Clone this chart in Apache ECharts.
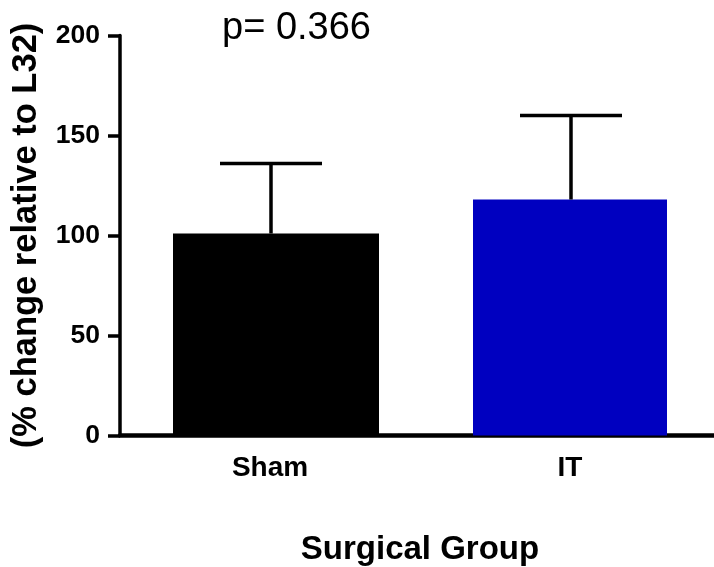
<!DOCTYPE html>
<html>
<head>
<meta charset="utf-8">
<script src="https://cdn.jsdelivr.net/npm/echarts@6/dist/echarts.min.js"></script>
<style>html,body{margin:0;padding:0;background:#fff}#c{width:714px;height:567px}</style>
</head>
<body>
<div id="c"></div>
<script>
var categories = ['Sham', 'IT'];
var meanValues = [101, 118];
var errorTops = [136, 160];
var yTicks = [0, 50, 100, 150, 200];
var barColors = ['#000000', '#0000c0'];
var pLabel = 'p= 0.366';

var FONT = '"Liberation Sans", Arial, sans-serif';
var chart = echarts.init(document.getElementById('c'));

function seriesFor(i, width) {
  var d = categories.map(function (c, j) { return j === i ? meanValues[j] : '-'; });
  return {
    type: 'bar', data: d, barWidth: width, barGap: '-100%',
    itemStyle: { color: barColors[i] }, silent: true, z: 2
  };
}

chart.setOption({
  animation: false,
  title: {
    text: pLabel, left: 217, top: 5,
    textStyle: { fontFamily: FONT, fontSize: 38, fontWeight: 'normal', color: '#000' }
  },
  grid: { left: 120, top: 35.5, width: 600, height: 400, containLabel: false, outerBoundsMode: 'none' },
  xAxis: {
    type: 'category', data: categories,
    name: 'Surgical Group', nameLocation: 'middle', nameGap: 98,
    nameTextStyle: { fontFamily: FONT, fontSize: 33, fontWeight: 'bold', color: '#000' },
    axisLine: { lineStyle: { color: '#000', width: 4.5 } },
    axisTick: { alignWithLabel: true, length: 11, lineStyle: { width: 3.5, color: '#000' } },
    axisLabel: { fontFamily: FONT, fontSize: 28, fontWeight: 'bold', color: '#000', margin: 19 }
  },
  yAxis: {
    type: 'value', min: 0, max: 200, interval: 50,
    name: '(% change relative to L32)', nameLocation: 'middle', nameGap: 76,
    nameTextStyle: { fontFamily: FONT, fontSize: 34.5, fontWeight: 'bold', color: '#000' },
    axisLine: { show: true, lineStyle: { color: '#000', width: 3.5 } },
    axisTick: { show: true, length: 12, lineStyle: { width: 3.5, color: '#000' } },
    axisLabel: {
      fontFamily: FONT, fontSize: 26.5, fontWeight: 'bold', color: '#000', margin: 20,
      formatter: function (v) { return yTicks.indexOf(v) >= 0 ? String(v) : ''; }
    },
    splitLine: { show: false }
  },
  series: [
    seriesFor(0, 206),
    seriesFor(1, 194),
    {
      type: 'custom', silent: true, z: 3,
      data: categories.map(function (c, i) { return [i, meanValues[i], errorTops[i]]; }),
      renderItem: function (params, api) {
        var base = api.coord([api.value(0), api.value(1)]);
        var top = api.coord([api.value(0), api.value(2)]);
        var half = 51;
        var style = { stroke: '#000', lineWidth: 3.5, fill: null };
        return {
          type: 'group',
          children: [
            { type: 'line', shape: { x1: base[0] + 1, y1: base[1], x2: top[0] + 1, y2: top[1] }, style: style },
            { type: 'line', shape: { x1: top[0] + 1 - half, y1: top[1], x2: top[0] + 1 + half, y2: top[1] }, style: style }
          ]
        };
      }
    }
  ]
});
</script>
</body>
</html>
